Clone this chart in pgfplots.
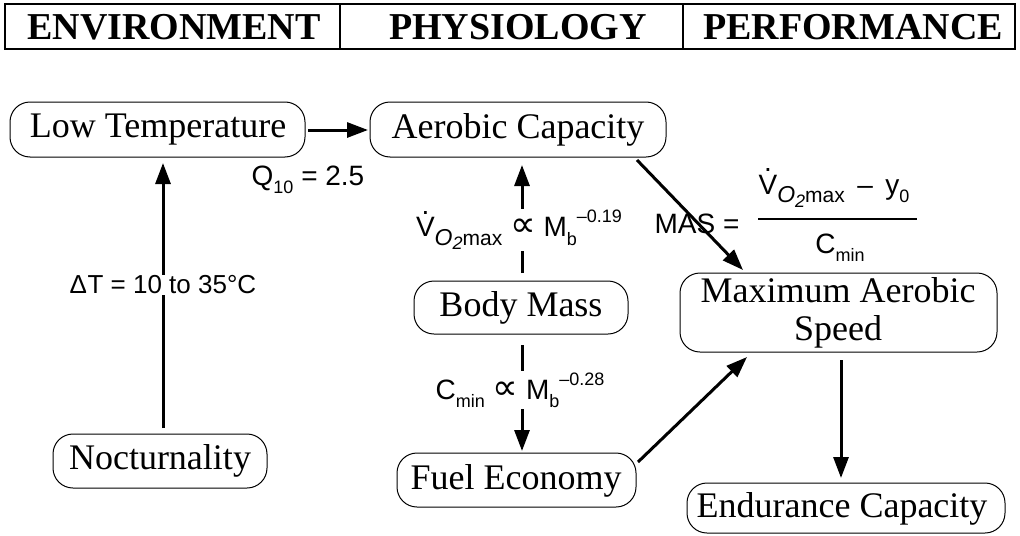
\documentclass[border=0pt]{standalone}
\usepackage{pgfplots}
\pgfplotsset{compat=1.18}
\usepackage{fontspec}
\setmainfont{Liberation Serif}
\newfontfamily\lab{Liberation Sans}
\newfontfamily\dvs{DejaVu Sans}
\usetikzlibrary{arrows.meta}
\newcommand{\bx}{\fontsize{36bp}{38bp}\selectfont}
\newcommand{\hd}{\fontsize{38bp}{40bp}\selectfont\bfseries}
\newcommand{\lb}{\lab\fontsize{28bp}{30bp}\selectfont}
\newcommand{\sm}{\fontsize{18bp}{19bp}\selectfont}
\newcommand{\sub}[1]{\raisebox{-0.3em}{\sm #1}}
\newcommand{\sups}[1]{\raisebox{0.5em}{\sm #1}}
\newcommand{\prop}{{\dvs\fontsize{36bp}{36bp}\selectfont ∝}}
\newcommand{\vdot}{\ooalign{V\cr\hidewidth\raisebox{0.8em}{.}\hidewidth\cr}}
\newcommand{\vo}{\vdot\raisebox{-0.3em}{\fontsize{23bp}{24bp}\selectfont\itshape O\raisebox{-0.2em}{\sm 2}}\raisebox{-0.3em}{\fontsize{21bp}{22bp}\selectfont max}}
\begin{document}
\begin{tikzpicture}
\begin{axis}[scale only axis, width=1020bp, height=535bp,
  xmin=0, xmax=1020, ymin=0, ymax=535, y dir=reverse,
  axis lines=none, ticks=none, clip=false]
\addplot[draw=none] coordinates {(0,0) (1020,535)};
% header
\draw[line width=1.6bp] (axis cs:5,4) rectangle (axis cs:1015,49);
\draw[line width=1.2bp] (axis cs:340,4) -- (axis cs:340,49);
\draw[line width=1.2bp] (axis cs:683,4) -- (axis cs:683,49);
\node[font=\hd] at (axis cs:174,27) {ENVIRONMENT};
\node[font=\hd] at (axis cs:518,27) {PHYSIOLOGY};
\node[font=\hd] at (axis cs:853,27) {PERFORMANCE};
% boxes
\tikzset{bxs/.style={rounded corners=20bp, line width=1bp}}
\draw[bxs] (axis cs:10,102) rectangle (axis cs:305,157);
\node[font=\bx] at (axis cs:158,130) {Low Temperature};
\draw[bxs] (axis cs:370,102) rectangle (axis cs:666,157);
\node[font=\bx] at (axis cs:518,130) {Aerobic Capacity};
\draw[bxs] (axis cs:414,281) rectangle (axis cs:628,334);
\node[font=\bx] at (axis cs:521,308) {Body Mass};
\draw[bxs] (axis cs:53,434) rectangle (axis cs:267,488);
\node[font=\bx] at (axis cs:160,461) {Nocturnality};
\draw[bxs] (axis cs:397,453) rectangle (axis cs:636,507);
\node[font=\bx] at (axis cs:516,481) {Fuel Economy};
\draw[bxs] (axis cs:680,273) rectangle (axis cs:997,352);
\node[font=\bx, align=center] at (axis cs:838,313) {Maximum Aerobic\\Speed};
\draw[bxs] (axis cs:687,483) rectangle (axis cs:1005,533);
\node[font=\bx] at (axis cs:842,509) {Endurance Capacity};
% arrows
\tikzset{ar/.style={line width=3bp, -{Triangle[length=21bp,width=15bp]}}}
\draw[ar] (axis cs:308,130) -- (axis cs:368,130);
\draw[ar] (axis cs:163,428) -- (axis cs:163,163);
\draw[ar] (axis cs:522,273) -- (axis cs:522,165);
\draw[ar] (axis cs:522,345) -- (axis cs:522,451);
\draw[ar] (axis cs:637,160) -- (axis cs:743,270);
\draw[ar] (axis cs:638,462) -- (axis cs:747,357);
\draw[ar] (axis cs:841,360) -- (axis cs:841,478);
% labels
\node[font=\lb] at (axis cs:308,180) {Q\sub{10} = 2.5};
\node[font=\lab\fontsize{26bp}{28bp}\selectfont, fill=white, inner sep=1bp] at (axis cs:163,285) {Δ\kern0.5pt T = 10 to 35°C};
\node[font=\lb, fill=white, inner sep=1bp] at (axis cs:519,230) {\vo{} \prop{} M\sub{b}\sups{–0.19}};
\node[font=\lb, fill=white, inner sep=1bp] at (axis cs:520,390) {C\sub{min} \prop{} M\sub{b}\sups{–0.28}};
\node[font=\lb] at (axis cs:697,224) {MAS =};
\node[font=\lb] at (axis cs:834,191) {\vo{} \,–\, y\sub{0}};
\draw[line width=1.3bp] (axis cs:758,219) -- (axis cs:917,219);
\node[font=\lb] at (axis cs:840,248) {C\sub{min}};
\end{axis}
\end{tikzpicture}
\end{document}
